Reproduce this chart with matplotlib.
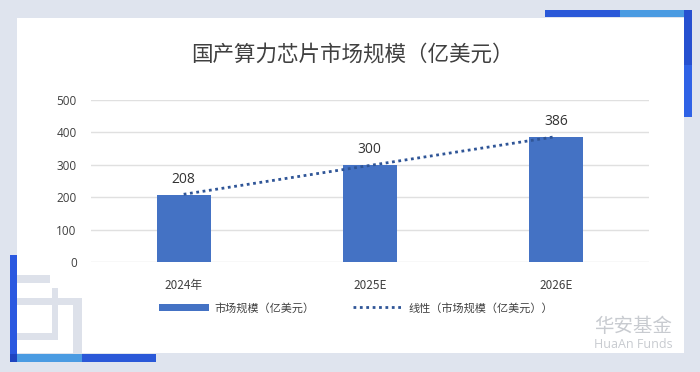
"""国产算力芯片市场规模 bar chart with linear trend line."""

import matplotlib
matplotlib.use("Agg")
import matplotlib.pyplot as plt
from matplotlib.patches import Rectangle

plt.rcParams["font.family"] = ["Noto Sans CJK SC", "DejaVu Sans"]

# data
categories = ["2024年", "2025E", "2026E"]
market_size = [208, 300, 386]
trend_vals = [209, 298, 387]  # Excel linear trendline
y_ticks = [0, 100, 200, 300, 400, 500]

title = "国产算力芯片市场规模（亿美元）"
bar_label = "市场规模（亿美元）"
trend_label = "线性（市场规模（亿美元））"

BAR_COLOR = "#4472c4"
TREND_COLOR = "#2f5597"
TEXT_COLOR = "#404040"
BG = "#dfe4ee"
DECO_GRAY = "#dde1ea"
BLUE_DARK = "#2a58d8"
BLUE_LIGHT = "#4a9be2"

W, H = 700, 372
fig = plt.figure(figsize=(W / 100, H / 100), dpi=100, facecolor=BG)

# background card + decorations, drawn in pixel coordinates
deco = fig.add_axes([0, 0, 1, 1], zorder=0)
deco.set_xlim(0, W)
deco.set_ylim(H, 0)
deco.axis("off")


def box(x0, y0, x1, y1, color):
    deco.add_patch(Rectangle((x0, y0), x1 - x0, y1 - y0, color=color, lw=0))


box(17, 18, 684, 353, "white")
# grey glyph-like shape bottom left
box(17, 275, 50, 283, DECO_GRAY)
box(52, 288, 58, 340, DECO_GRAY)
box(17, 298, 82, 305, DECO_GRAY)
box(73, 298, 82, 354, DECO_GRAY)
box(17, 333, 58, 340, DECO_GRAY)
# blue brackets
box(545, 10, 620, 17, BLUE_DARK)
box(620, 10, 684, 17, BLUE_LIGHT)
box(684, 10, 692, 117, "#2f62e6")
box(684, 10, 692, 65, "#2650d0")
box(10, 255, 17, 362, "#2a58e0")
box(17, 354, 82, 362, BLUE_LIGHT)
box(82, 354, 156, 362, BLUE_DARK)
box(10, 354, 17, 362, "#1f44c0")

# title and watermark
fig.text(352 / W, 1 - 55 / H, title, ha="center", va="center",
         fontsize=15.5, color=TEXT_COLOR)
fig.text(633 / W, 1 - 326 / H, "华安基金", ha="center", va="center",
         fontsize=14, color="#c8cbd0")
fig.text(633 / W, 1 - 345 / H, "HuaAn Funds", ha="center", va="center",
         fontsize=9, color="#c8cbd0", family=["Open Sans", "DejaVu Sans"])

# main chart
ax = fig.add_axes([90.6 / W, 1 - 262 / H, (649 - 90.6) / W, (262 - 100) / H],
                  zorder=1)
ax.set_facecolor("none")
x = list(range(len(categories)))
bars = ax.bar(x, market_size, width=0.29, color=BAR_COLOR, zorder=2,
              label=bar_label)
(trend,) = ax.plot(x, trend_vals, color=TREND_COLOR, lw=2,
                   linestyle=(0, (1, 1.3)), zorder=3, label=trend_label)

for xi, v in zip(x, market_size):
    ax.annotate(str(v), (xi, v), xytext=(0, 11), textcoords="offset points",
                ha="center", va="center", fontsize=10, color="#333333",
                family=["Open Sans", "DejaVu Sans"])

ax.set_xlim(-0.5, 2.5)
ax.set_ylim(0, 500)
ax.set_yticks(y_ticks)
ax.set_xticks(x)
ax.set_xticklabels(categories, fontsize=8.5, color=TEXT_COLOR)
for lbl in ax.get_yticklabels():
    lbl.set_family(["Open Sans", "DejaVu Sans"])
    lbl.set_fontsize(8.5)
    lbl.set_color(TEXT_COLOR)
ax.tick_params(axis="y", length=0, pad=10)
ax.tick_params(axis="x", length=0, pad=12)
ax.yaxis.grid(True, color="#e0e0e0", lw=1)
ax.set_axisbelow(True)
for s in ax.spines.values():
    s.set_visible(False)

fig.legend(handles=[bars, trend], loc="center",
           bbox_to_anchor=(356 / W, 1 - 308 / H), ncol=2, frameon=False,
           fontsize=8, handlelength=4.5, handletextpad=0.5,
           columnspacing=3.4, labelcolor=TEXT_COLOR)

fig.savefig("out.png", dpi=100, facecolor=BG)
